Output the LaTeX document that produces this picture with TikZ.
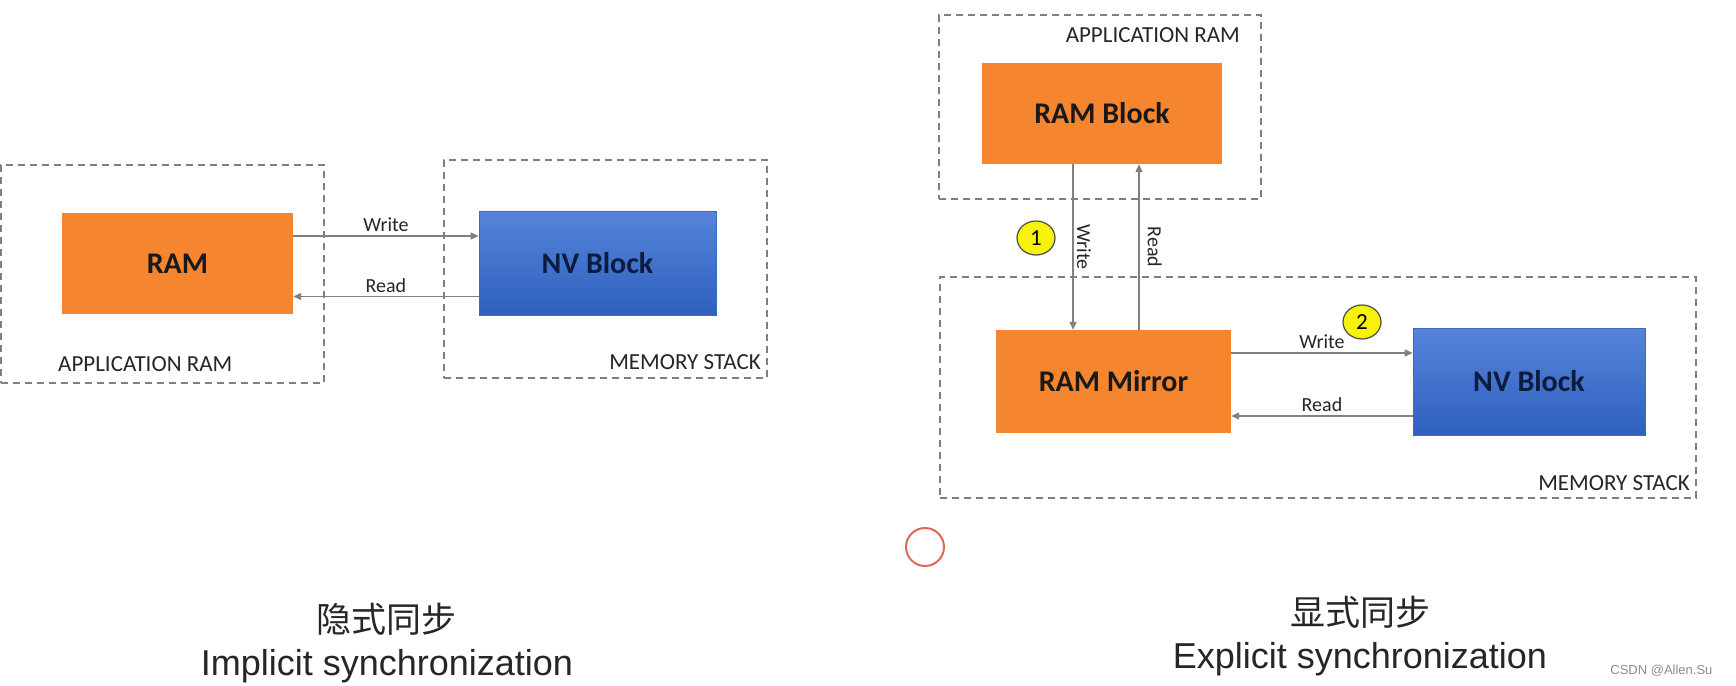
\documentclass[tikz,border=0pt]{standalone}
\usepackage{fontspec}
\setmainfont{Carlito}
\newfontfamily\arialfont{Liberation Sans}
\newfontfamily\cjk{Noto Sans CJK SC}
\usetikzlibrary{arrows.meta,shapes.geometric}
\definecolor{grpgray}{HTML}{7F7F7F}
\definecolor{arrowgray}{HTML}{808080}
\definecolor{ramorange}{HTML}{F5862F}
\definecolor{nvtop}{HTML}{5584D8}
\definecolor{nvbot}{HTML}{2F60BF}
\definecolor{nvedge}{HTML}{3A6AC2}
\definecolor{nvtext}{HTML}{0D1B3E}
\definecolor{badgeyellow}{HTML}{F7F20A}
\definecolor{markred}{HTML}{E0675A}
\newcommand*{\fsz}[1]{\fontsize{#1}{#1}\selectfont}

\begin{document}
\begin{tikzpicture}[x=1pt, y=-1pt,
    grp/.style={draw=grpgray, line width=1.4pt, dash pattern=on 7pt off 5pt, inner sep=0pt},
    grplbl/.style={font=\fsz{23}, text=black!85, inner sep=0pt},
    ramblk/.style={fill=ramorange, inner sep=0pt, font=\bfseries\fsz{30}, text=black!90},
    nvblk/.style={top color=nvtop, bottom color=nvbot, draw=nvedge, line width=0.6pt, inner sep=0pt, font=\bfseries\fsz{30}, text=nvtext},
    flow/.style={draw=arrowgray, line width=1.4pt, -{Triangle[length=8pt,width=7pt]}},
    flowlbl/.style={font=\fsz{20}, text=black!85},
    badge/.style={ellipse, draw=black!70, line width=1.2pt, fill=badgeyellow, minimum width=38pt, minimum height=34pt, inner sep=0pt, font=\fsz{23}},
    caption/.style={font=\arialfont\fsz{36}, text=black!85},
    cjkcap/.style={font=\cjk\fsz{35}, text=black!85}]
    \fill[white] (0,0) rectangle (1736,685);
    \useasboundingbox (0,0) rectangle (1736,685);

    % implicit synchronization
    \node[grp, minimum width=323pt, minimum height=218pt] (appL) at (162.5,274) {};
    \node[grp, minimum width=323pt, minimum height=218pt] (memL) at (605.5,269) {};
    \node[ramblk, minimum width=231pt, minimum height=101pt] (ram) at (177.5,263.5) {RAM};
    \node[nvblk, minimum width=237pt, minimum height=104pt] (nvL) at (597.5,263) {NV Block};
    \node[grplbl, anchor=west] (appLlbl) at (58,364) {APPLICATION RAM};
    \node[grplbl, anchor=east] (memLlbl) at (761,362) {MEMORY STACK};
    \path ([yshift=27.5pt]ram.east) coordinate (wL);
    \path ([yshift=-33.5pt]nvL.west) coordinate (rL);
    \draw[flow] (wL) -- (wL -| nvL.west) node[flowlbl, midway, above] {Write};
    \draw[flow] (rL) -- (rL -| ram.east) node[flowlbl, midway, above] {Read};

    % explicit synchronization
    \node[grp, minimum width=322pt, minimum height=184pt] (appR) at (1100,107) {};
    \node[grp, minimum width=756pt, minimum height=221pt] (memR) at (1318,387.5) {};
    \node[ramblk, minimum width=240pt, minimum height=101pt] (ramBlk) at (1102,113.5) {RAM Block};
    \node[ramblk, minimum width=235pt, minimum height=103pt] (mirror) at (1113.5,381.5) {RAM Mirror};
    \node[nvblk, minimum width=232pt, minimum height=107pt] (nvR) at (1529,381.5) {NV Block};
    \node[grplbl, anchor=east] (appRlbl) at (1240,35) {APPLICATION RAM};
    \node[grplbl, anchor=east] (memRlbl) at (1690,483) {MEMORY STACK};
    \path ([xshift=-29pt]ramBlk.south) coordinate (vW);
    \path ([xshift=37pt]ramBlk.south) coordinate (vR);
    \draw[flow] (vW) -- (vW |- mirror.north) node[flowlbl, midway, rotate=-90, anchor=south] {Write};
    \draw[flow] (vR |- mirror.north) -- (vR) node[flowlbl, midway, rotate=-90, anchor=south, inner sep=8pt] {Read};
    \path ([yshift=28.5pt]mirror.east) coordinate (hW);
    \path ([yshift=-34.5pt]nvR.west) coordinate (hR);
    \draw[flow] (hW) -- (hW -| nvR.west) node[flowlbl, midway, above] {Write};
    \draw[flow] (hR) -- (hR -| mirror.east) node[flowlbl, midway, above] {Read};
    \node[badge] (one) at (1036,238) {1};
    \node[badge] (two) at (1362,322) {2};
    \node[circle, draw=markred, line width=2pt, minimum size=38pt] (cursor) at (925,547) {};

    % captions
    \node[cjkcap] (implZh) at (386,619) {隐式同步};
    \node[caption] (implEn) at (387,666) {Implicit synchronization};
    \node[cjkcap] (explZh) at (1360,612) {显式同步};
    \node[caption] (explEn) at (1360,659) {Explicit synchronization};
    \node[font=\arialfont\fsz{13}, text=black!45, anchor=east] (credit) at (1716,671) {CSDN @Allen.Su};
\end{tikzpicture}
\end{document}
